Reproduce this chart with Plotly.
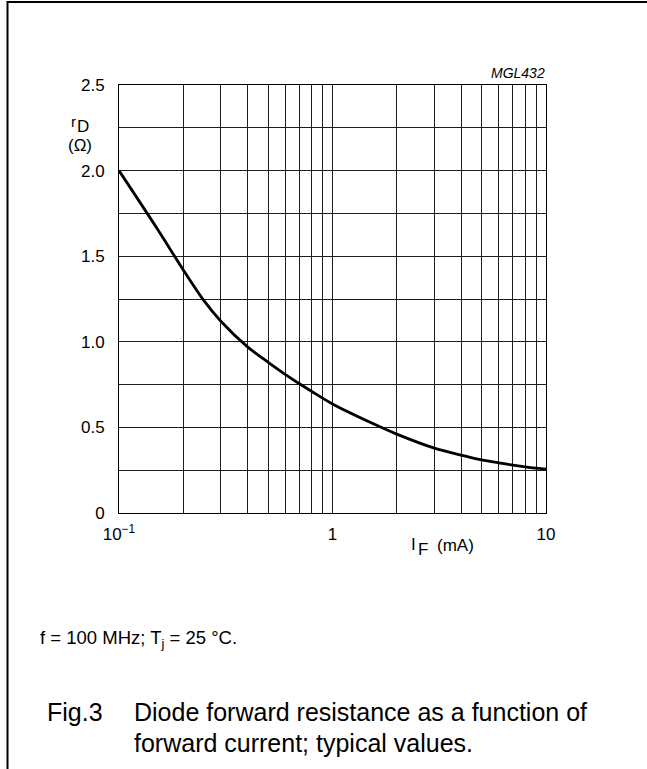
import plotly.graph_objects as go

# Data
i_f_mA = [0.1, 0.15, 0.2, 0.25, 0.3, 0.4, 0.5, 0.6, 0.7, 0.8, 1.0,
          1.5, 2, 3, 4, 5, 6, 7, 8, 10]
r_d_ohm = [2.0, 1.666, 1.42, 1.24, 1.12, 0.97, 0.88, 0.81, 0.755, 0.71, 0.637,
           0.53, 0.461, 0.379, 0.338, 0.31, 0.293, 0.28, 0.27, 0.256]

x_grid = [0.1, 0.2, 0.3, 0.4, 0.5, 0.6, 0.7, 0.8, 0.9, 1, 2, 3, 4, 5, 6, 7, 8, 9, 10]
x_labels = {0.1: "10<sup>−1</sup>", 1: "1", 10: "10"}
y_grid = [0, 0.25, 0.5, 0.75, 1.0, 1.25, 1.5, 1.75, 2.0, 2.25, 2.5]
y_labels = {0: "0", 0.5: "0.5", 1.0: "1.0", 1.5: "1.5", 2.0: "2.0", 2.5: "2.5"}

W, H = 647, 769
L, R, T, B = 119, 546, 85, 513
pw, ph = R - L, B - T


def px(x):
    return (x - L) / pw


def py(y):
    return (B - y) / ph


FONT = "Liberation Sans, Arial, sans-serif"

fig = go.Figure()
fig.add_trace(go.Scatter(
    x=i_f_mA, y=r_d_ohm, mode="lines",
    line=dict(color="black", width=2.8, shape="spline", smoothing=0.8),
    showlegend=False, hoverinfo="skip"))

fig.update_layout(
    width=W, height=H,
    margin=dict(l=L, r=W - R, t=T, b=H - B, pad=0),
    paper_bgcolor="white", plot_bgcolor="white",
    font=dict(family=FONT, size=17, color="black"),
    xaxis=dict(type="log", range=[-1, 1], tickmode="array",
               tickvals=x_grid, ticktext=[x_labels.get(v, "") for v in x_grid],
               showgrid=True, gridcolor="#1e1e1e", gridwidth=1,
               showline=True, linecolor="black", linewidth=1, mirror=True,
               ticks="", zeroline=False, tickfont=dict(size=17), ticklabelstandoff=6),
    yaxis=dict(range=[0, 2.5], tickmode="array",
               tickvals=y_grid, ticktext=[y_labels.get(v, "") for v in y_grid],
               showgrid=True, gridcolor="#1e1e1e", gridwidth=1,
               showline=True, linecolor="black", linewidth=1, mirror=True,
               ticks="", zeroline=False, tickfont=dict(size=17), ticklabelstandoff=10),
)

ann = [
    dict(text="r", x=px(73), y=py(121), size=15),
    dict(text="D", x=px(83), y=py(126), size=17),
    dict(text="(Ω)", x=px(80), y=py(145), size=17),
    dict(text="I", x=px(413.5), y=py(544), size=17),
    dict(text="F", x=px(423), y=py(549), size=17),
    dict(text="(mA)", x=px(455), y=py(545), size=17),
    dict(text="<i>MGL432</i>", x=px(547), y=py(73), size=14, xanchor="right"),
    dict(text="f = 100 MHz; T<sub>j</sub> = 25 °C.", x=px(38), y=py(639), size=18.5, xanchor="left"),
    dict(text="Fig.3", x=px(45), y=py(712), size=25, xanchor="left"),
    dict(text="Diode forward resistance as a function of", x=px(132), y=py(712), size=25, xanchor="left"),
    dict(text="forward current; typical values.", x=px(132), y=py(743), size=25, xanchor="left"),
]
for a in ann:
    fig.add_annotation(text=a["text"], x=a["x"], y=a["y"], xref="paper", yref="paper",
                       showarrow=False, xanchor=a.get("xanchor", "center"), yanchor="middle",
                       font=dict(family=FONT, size=a.get("size", 17), color="black"))

# outer frame (left and top edges)
fig.add_shape(type="line", xref="paper", yref="paper", x0=px(7.5), x1=px(7.5), y0=py(1), y1=py(769),
              line=dict(color="black", width=2))
fig.add_shape(type="line", xref="paper", yref="paper", x0=px(7.5), x1=px(647), y0=py(2), y1=py(2),
              line=dict(color="black", width=2))

fig.write_html("out.html", config={"displayModeBar": False},
               post_script="document.body.style.margin='0';document.body.style.overflow='hidden';")
